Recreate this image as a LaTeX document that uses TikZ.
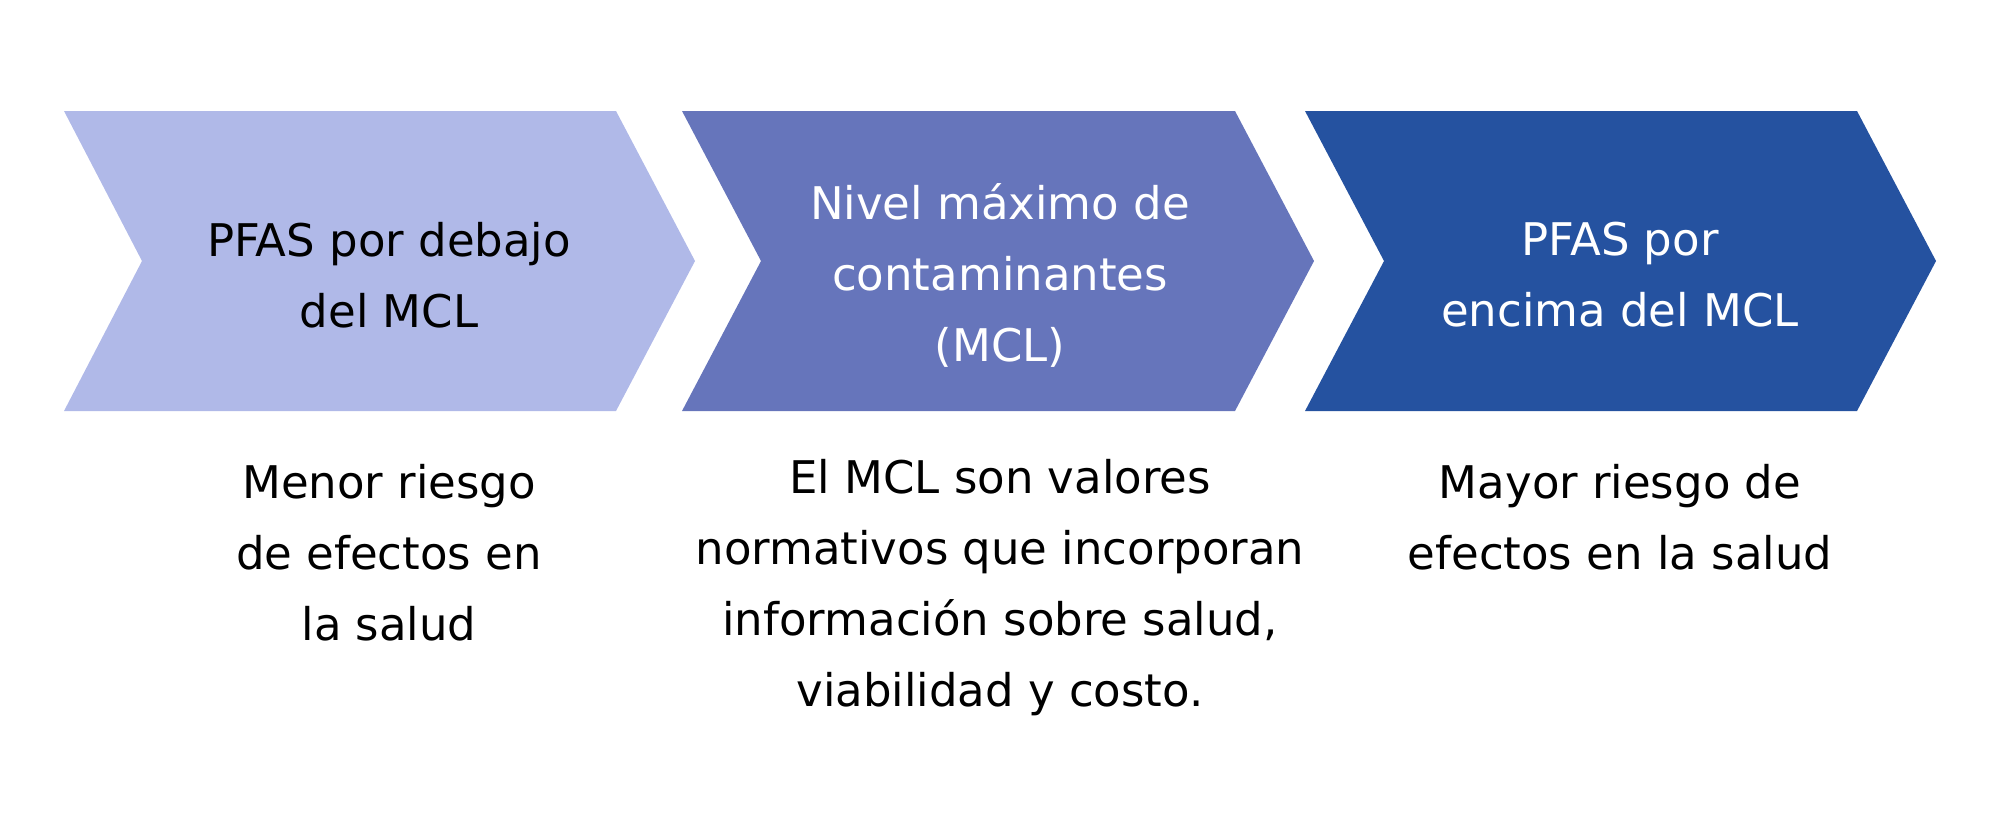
\documentclass[tikz,border=0pt]{standalone}
\usepackage{fontspec}
\setmainfont{DejaVu Sans}
\definecolor{chevA}{RGB}{176,185,232}
\definecolor{chevB}{RGB}{102,117,187}
\definecolor{chevC}{RGB}{37,82,160}
\begin{document}
\begin{tikzpicture}[x=0.5pt,y=-0.5pt,
  lbl/.style={align=center,font=\fontsize{22.5}{35.5}\selectfont,inner sep=0pt}]
\useasboundingbox (0,0) rectangle (2000,836);
\fill[chevA] (64,111) -- (616,111) -- (695,261) -- (616,411) -- (64,411) -- (142,261) -- cycle;
\fill[chevB] (682,111) -- (1235,111) -- (1314,261) -- (1235,411) -- (682,411) -- (761,261) -- cycle;
\fill[chevC] (1305,111) -- (1857,111) -- (1936,261) -- (1857,411) -- (1305,411) -- (1384,261) -- cycle;
\node[lbl,text=black] (t1) at (389,275) {PFAS por debajo\\del MCL};
\node[lbl,text=white] (t2) at (1000,275) {Nivel máximo de\\contaminantes\\(MCL)};
\node[lbl,text=white] (t3) at (1620,275) {PFAS por\\encima del MCL};
\node[lbl,text=black] (d1) at (389,553) {Menor riesgo\\de efectos en\\la salud};
\node[lbl,text=black] (d2) at (1000,588) {El MCL son valores\\normativos que incorporan\\información sobre salud,\\viabilidad y costo.};
\node[lbl,text=black] (d3) at (1620,517) {Mayor riesgo de\\efectos en la salud};
\end{tikzpicture}
\end{document}
